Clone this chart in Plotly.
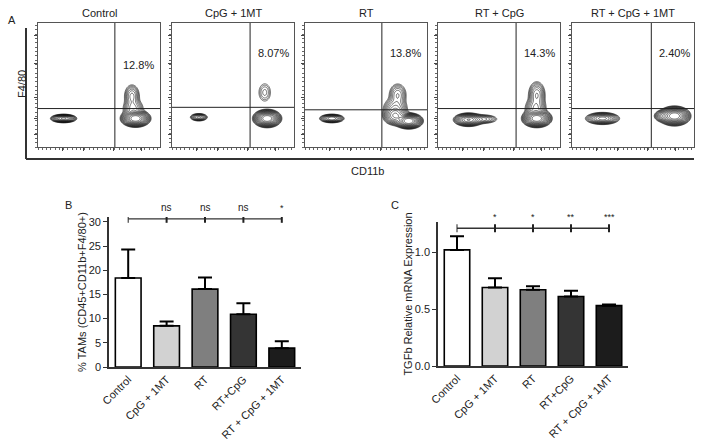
import numpy as np
import plotly.graph_objects as go

# ---------------- data ----------------
panel_titles = ["Control", "CpG + 1MT", "RT", "RT + CpG", "RT + CpG + 1MT"]
panel_pct = ["12.8%", "8.07%", "13.8%", "14.3%", "2.40%"]
# gate positions (fraction of the axis)
gate_x = [0.63, 0.64, 0.63, 0.64, 0.65]
gate_y = [0.31, 0.32, 0.30, 0.31, 0.31]
# populations per panel: (cx, cy, sx, sy, weight)
populations = [
    [(0.21, 0.23, 0.040, 0.013, 0.40), (0.80, 0.23, 0.042, 0.024, 1.0), (0.78, 0.31, 0.040, 0.035, 0.08),
     (0.77, 0.41, 0.030, 0.045, 0.08)],
    [(0.22, 0.24, 0.030, 0.013, 0.15), (0.78, 0.23, 0.040, 0.025, 1.0), (0.76, 0.44, 0.032, 0.047, 0.03)],
    [(0.22, 0.23, 0.040, 0.014, 0.25), (0.85, 0.21, 0.040, 0.022, 1.0), (0.74, 0.25, 0.040, 0.030, 0.25),
     (0.74, 0.31, 0.045, 0.040, 0.10), (0.76, 0.42, 0.035, 0.045, 0.07)],
    [(0.25, 0.22, 0.045, 0.020, 0.50), (0.37, 0.225, 0.055, 0.017, 0.08), (0.81, 0.23, 0.042, 0.025, 1.0),
     (0.80, 0.31, 0.040, 0.040, 0.10), (0.81, 0.42, 0.032, 0.050, 0.10)],
    [(0.25, 0.23, 0.054, 0.019, 0.30), (0.84, 0.25, 0.045, 0.027, 1.0), (0.74, 0.25, 0.030, 0.020, 0.10)],
]

groups_b = ["Control", "CpG + 1MT", "RT", "RT+CpG", "RT + CpG + 1MT"]
tams = [18.4, 8.5, 16.1, 10.9, 3.9]
tams_err = [5.9, 0.9, 2.4, 2.3, 1.4]
sig_b = ["", "ns", "ns", "ns", "*"]

groups_c = ["Control", "CpG + 1MT", "RT", "RT+CpG", "RT + CpG + 1MT"]
tgfb = [1.02, 0.69, 0.67, 0.61, 0.53]
tgfb_err = [0.12, 0.08, 0.03, 0.05, 0.01]
sig_c = ["", "*", "*", "**", "***"]

bar_colors = ["#ffffff", "#d2d2d2", "#7f7f7f", "#343434", "#1c1c1c"]

W, H = 704, 446
FONT = "Liberation Sans, Arial, sans-serif"


def px_x(v):
    return v / W


def px_y(v):
    return 1 - v / H


def label(text, x, y, **kw):
    d = dict(text=text, xref="paper", yref="paper", x=px_x(x), y=px_y(y), showarrow=False,
             xanchor="center", yanchor="middle", font=dict(size=11, color="#222"))
    d.update(kw)
    return d


fig = go.Figure()

# ---------------- panel A: contour plots ----------------
g = np.linspace(0, 1, 180)
GX, GY = np.meshgrid(g, g)
box_left = [38, 172, 305, 438, 572]
box_w = 122
shapes = []
annos = []
for i, pops in enumerate(populations):
    z = np.zeros_like(GX)
    for cx, cy, sx, sy, w in pops:
        z += w * np.exp(-((GX - cx) ** 2 / (2 * sx ** 2) + (GY - cy) ** 2 / (2 * sy ** 2)))
    z = np.log10(np.maximum(z / z.max(), 1e-4))
    n = i + 1
    fig.add_trace(go.Contour(
        x=g, y=g, z=z, xaxis="x%d" % n, yaxis="y%d" % n,
        contours=dict(start=-2, end=-0.05, size=0.14, coloring="lines"),
        line=dict(color="black", width=0.55),
        colorscale=[[0, "black"], [1, "black"]], showscale=False, hoverinfo="skip"))
    ax = dict(domain=[px_x(box_left[i]), px_x(box_left[i] + box_w)], range=[0, 1],
              showgrid=False, zeroline=False, showline=True, mirror=True, automargin=False,
              linecolor="#555", linewidth=1, showticklabels=False,
              ticks="outside", ticklen=3, tickcolor="#444",
              tickvals=[0.2, 0.37, 0.62, 0.85],
              minor=dict(ticks="outside", ticklen=2, dtick=0.035, tickcolor="#666"),
              anchor="y%d" % n)
    ay = dict(domain=[px_y(147), px_y(23)], range=[0, 1],
              showgrid=False, zeroline=False, showline=True, mirror=True, automargin=False,
              linecolor="#555", linewidth=1, showticklabels=False,
              ticks="outside", ticklen=3, tickcolor="#444",
              tickvals=[0.1, 0.23, 0.4, 0.67, 0.9],
              minor=dict(ticks="outside", ticklen=2, dtick=0.035, tickcolor="#666"),
              anchor="x%d" % n)
    fig.layout["xaxis%d" % n] = ax
    fig.layout["yaxis%d" % n] = ay
    shapes.append(dict(type="line", xref="x%d" % n, yref="y%d" % n, x0=gate_x[i], x1=gate_x[i],
                       y0=0, y1=1, line=dict(color="#222", width=1)))
    shapes.append(dict(type="line", xref="x%d" % n, yref="y%d" % n, x0=0, x1=1,
                       y0=gate_y[i], y1=gate_y[i], line=dict(color="#222", width=1)))
    annos.append(label(panel_titles[i], box_left[i] + box_w / 2, 13))
    pct_y = 0.66 if i == 0 else 0.76
    annos.append(dict(text=panel_pct[i], xref="x%d" % n, yref="y%d" % n,
                      x=gate_x[i] + 0.19, y=pct_y, showarrow=False,
                      xanchor="center", yanchor="middle",
                      font=dict(size=11, color="#222")))

# L-shaped frame of panel A
shapes.append(dict(type="line", xref="paper", yref="paper", x0=px_x(26), x1=px_x(26),
                   y0=px_y(28), y1=px_y(159), line=dict(color="#333", width=2)))
shapes.append(dict(type="line", xref="paper", yref="paper", x0=px_x(26), x1=px_x(694),
                   y0=px_y(159), y1=px_y(159), line=dict(color="#333", width=2)))
annos += [
    label("A", 12, 20),
    label("F4/80", 22, 84, textangle=-90),
    label("CD11b", 367, 171),
    label("B", 68, 205),
    label("C", 395, 205),
]


# ---------------- panels B and C: bar charts ----------------
def bar_panel(n, cats, vals, errs, cap, xdom, ydom, yrange, tickvals, ticktext, ytitle, sig, sig_y, tick_h):
    fig.add_trace(go.Bar(
        x=list(range(len(cats))), y=vals, xaxis="x%d" % n, yaxis="y%d" % n,
        width=0.67, marker=dict(color=bar_colors, line=dict(color="black", width=1.6)),
        error_y=dict(type="data", array=errs, arrayminus=[0] * len(errs), symmetric=False,
                     color="black", thickness=2, width=cap),
        showlegend=False, hoverinfo="skip"))
    fig.layout["xaxis%d" % n] = dict(
        domain=xdom, range=[-0.5, len(cats) - 0.5], tickvals=list(range(len(cats))),
        ticktext=cats, tickangle=-45, showline=True, linecolor="#333", linewidth=1.6,
        ticks="", showgrid=False, zeroline=False, anchor="y%d" % n, automargin=False,
        tickfont=dict(size=11, color="#222"))
    fig.layout["yaxis%d" % n] = dict(
        domain=ydom, range=yrange, tickvals=tickvals, ticktext=ticktext,
        showline=True, linecolor="#333", linewidth=1.6, ticks="outside", ticklen=4,
        tickwidth=1.4, tickcolor="#333", showgrid=False, zeroline=False, anchor="x%d" % n,
        automargin=False, tickfont=dict(size=11, color="#222"),
        title=dict(text=ytitle, font=dict(size=11, color="#222"), standoff=0))
    # data value -> paper y, for labels that sit above the axis range
    to_paper = lambda v: ydom[0] + (v - yrange[0]) / (yrange[1] - yrange[0]) * (ydom[1] - ydom[0])
    shapes.append(dict(type="line", xref="x%d" % n, yref="y%d" % n, x0=0, x1=len(cats) - 1,
                       y0=sig_y, y1=sig_y, line=dict(color="#333", width=1.3)))
    for k, s in enumerate(sig):
        shapes.append(dict(type="line", xref="x%d" % n, yref="y%d" % n, x0=k, x1=k,
                           y0=sig_y - tick_h, y1=sig_y + tick_h,
                           line=dict(color="#222", width=1 if k == 0 else 2)))
        if s:
            annos.append(dict(text=s, xref="x%d" % n, yref="paper", x=k, y=to_paper(sig_y + tick_h),
                              xanchor="center", yanchor="bottom", showarrow=False,
                              font=dict(size=9 if s != "ns" else 10, color="#222")))


bar_panel(6, groups_b, tams, tams_err, 7, [px_x(109), px_x(301)], [px_y(367), px_y(217)],
          [0, 31], [0, 5, 10, 15, 20, 25, 30], ["0", "5", "10", "15", "20", "25", "30"],
          "% TAMs (CD45+CD11b+F4/80+)", sig_b, 30.6, 0.8)
bar_panel(7, groups_c, tgfb, tgfb_err, 7, [px_x(438), px_x(628)], [px_y(366), px_y(222)],
          [0, 1.265], [0, 0.5, 1.0], ["0.0", "0.5", "1.0"],
          "TGFb Relative mRNA Expression", sig_c, 1.21, 0.035)

fig.update_layout(
    width=W, height=H, margin=dict(l=0, r=0, t=0, b=0, autoexpand=False),
    paper_bgcolor="white", plot_bgcolor="white",
    font=dict(family=FONT, size=11, color="#222"),
    shapes=shapes, annotations=annos, showlegend=False)

# drop the browser's default page margin so the figure sits at the window origin
fig.write_html("out.html", config={"displayModeBar": False},
               post_script="document.body.style.margin='0';")
